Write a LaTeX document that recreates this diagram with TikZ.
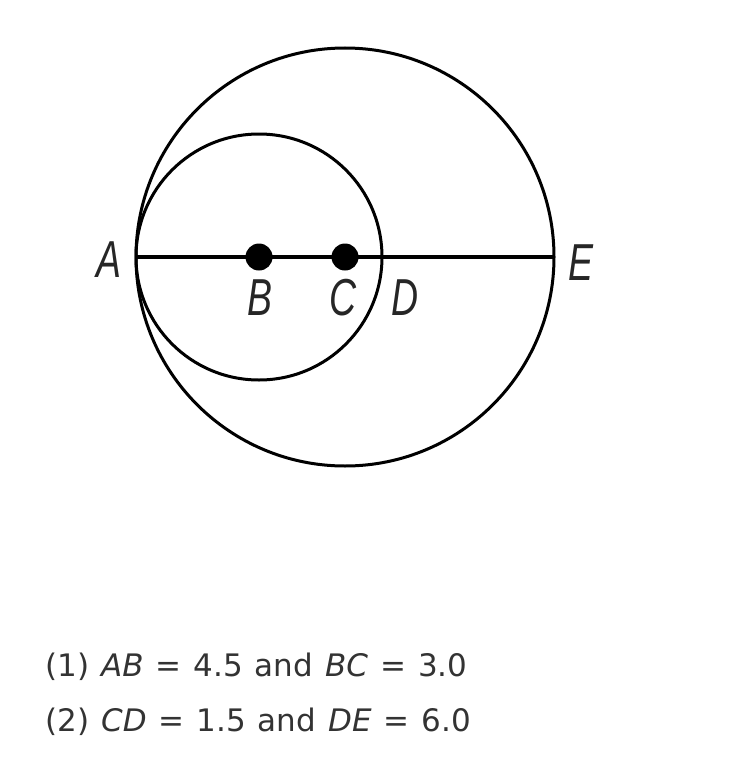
\documentclass[tikz,border=0pt]{standalone}
\usepackage{fontspec}
\setmainfont{DejaVu Sans}
\newfontfamily\labelfont{Liberation Sans}
\usetikzlibrary{positioning,calc}

\newcommand{\stmtfont}{\fontsize{31}{31}\selectfont\spaceskip 12pt\relax}
\newcommand{\narrow}[1]{\scalebox{0.72}[1]{#1}}

\tikzset{
  ptlabel/.style={font=\labelfont\itshape\fontsize{52}{52}\selectfont, text=black!85, inner sep=0pt},
  ptdot/.style={circle, fill=black, inner sep=0pt, minimum size=27pt},
  stmt/.style={font=\stmtfont, text=black!80, anchor=base west, inner sep=0pt}
}

\begin{document}
\begin{tikzpicture}[x=1pt, y=-1pt]
    \useasboundingbox (0,0) rectangle (747,784);

    % Points on the diameter
    \coordinate (A) at (136,257);
    \coordinate (B) at (259,257);
    \coordinate (C) at (345,257);
    \coordinate (D) at (382,257);
    \coordinate (E) at (554,257);

    % Circles
    \draw[line width=3pt] (C) circle (209);
    \draw[line width=3pt] (B) circle (123);

    % Diameter
    \draw[line width=4.5pt] (A) -- (E);

    % Centres
    \node[ptdot] (dotB) at (B) {};
    \node[ptdot] (dotC) at (C) {};

    % Labels
    \node[ptlabel] (labA) at (109,260) {\narrow{A}};
    \node[ptlabel] (labB) at (260,298) {\narrow{B}};
    \node[ptlabel] (labC) at (343,298) {\narrow{C}};
    \node[ptlabel] (labD) at (405,298) {\narrow{D}};
    \node[ptlabel] (labE) at (581,263) {\narrow{E}};

    % Statements
    \node[stmt] (s1) at (45,676) {(1) \textit{AB} = 4.5 and \textit{BC} = 3.0};
    \node[stmt] (s2) at (45,731) {(2) \textit{CD} = 1.5 and \textit{DE} = 6.0};
\end{tikzpicture}
\end{document}
